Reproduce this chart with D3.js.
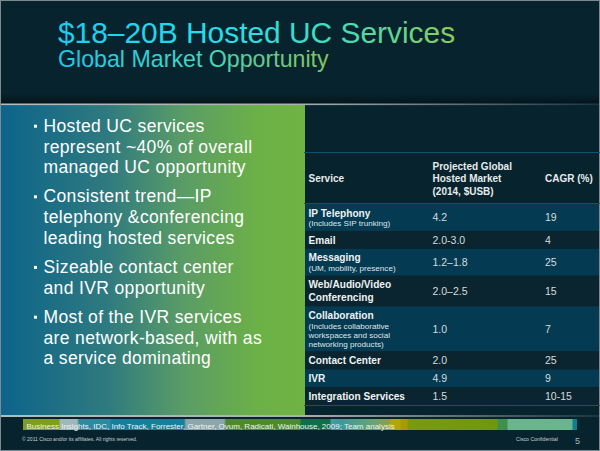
<!DOCTYPE html>
<html>
<head>
<meta charset="utf-8">
<script src="https://cdn.jsdelivr.net/npm/d3@7"></script>
<style>
  html, body { margin: 0; padding: 0; background: #07232e; }
  svg { display: block; }
  text { font-family: "Liberation Sans", Arial, sans-serif; }
</style>
</head>
<body>
<script>
// Slide text
var titleText = "$18–20B Hosted UC Services";
var subtitleText = "Global Market Opportunity";
var bullets = [
  ["Hosted UC services", "represent ~40% of overall", "managed UC opportunity"],
  ["Consistent trend—IP", "telephony &conferencing", "leading hosted services"],
  ["Sizeable contact center", "and IVR opportunity"],
  ["Most of the IVR services", "are network-based, with as", "a service dominating"]
];

// Table columns and rows
var headService = ["Service"];
var headMarket = ["Projected Global", "Hosted Market", "(2014, $USB)"];
var headCagr = ["CAGR (%)"];
var services = [["IP Telephony"], ["Email"], ["Messaging"], ["Web/Audio/Video", "Conferencing"], ["Collaboration"], ["Contact Center"], ["IVR"], ["Integration Services"]];
var serviceNotes = [["(Includes SIP trunking)"], [], ["(UM, mobility, presence)"], [], ["(Includes collaborative", "workspaces and social", "networking products)"], [], [], []];
var marketValues = ["4.2", "2.0-3.0", "1.2–1.8", "2.0–2.5", "1.0", "2.0", "4.9", "1.5"];
var cagrValues = ["19", "4", "25", "15", "7", "25", "9", "10-15"];

// Footer
var sourceText = "Business Insights, IDC, Info Track, Forrester, Gartner, Ovum, Radicati, Wainhouse, 2009; Team analysis";
var copyrightText = "© 2011 Cisco and/or its affiliates. All rights reserved.";
var confidentialText = "Cisco Confidential";
var pageText = "5";

var width = 600, height = 451;

var svg = d3.select("body").append("svg")
  .attr("width", width)
  .attr("height", height);

var defs = svg.append("defs");

function gradient(id, stops, x1, x2) {
  var g = defs.append("linearGradient").attr("id", id);
  if (x1 !== undefined) {
    g.attr("gradientUnits", "userSpaceOnUse").attr("x1", x1).attr("x2", x2).attr("y1", 0).attr("y2", 0);
  }
  stops.forEach(function(s) {
    g.append("stop").attr("offset", s[0]).attr("stop-color", s[1]);
  });
}

gradient("titleFill", [[0, "#1bcdf2"], [0.45, "#25e0ea"], [0.72, "#45dcb4"], [1, "#8ccb5a"]], 58, 456);
gradient("subFill", [[0, "#1bc8ee"], [0.5, "#3ed6c4"], [1, "#86c35a"]], 58, 330);
gradient("panelFill", [[0, "#0c6489"], [0.35, "#2f7a80"], [0.6, "#5a9c66"], [0.85, "#6cb147"], [1, "#6fb343"]]);
gradient("ruleFill", [[0, "#b4bcbc"], [0.5, "#a8b0b0"], [1, "#1c3640"]]);

// Source strip colours, by pixel position along the strip
var stripStart = 23, stripEnd = 577;
var stripStops = [
  [23, "#7f9f1c"], [59, "#7f9f1c"], [60, "#9fb8bc"], [77, "#9fb8bc"], [79, "#2f8a9c"], [110, "#2a8ca0"],
  [111, "#15809c"], [184, "#15809c"], [186, "#8ca6ac"], [224, "#8ca6ac"], [226, "#4f8a2a"], [300, "#4c8a2c"],
  [301, "#0f6f4a"], [330, "#0f6f4a"], [331, "#4a9aa8"], [340, "#3a9a9a"], [375, "#6ea274"], [390, "#90a040"],
  [391, "#b0a808"], [400, "#b0a808"], [401, "#a89a08"], [407, "#a89a08"], [408, "#7a9a10"], [497, "#6f980e"],
  [498, "#3f8f4e"], [507, "#3f8f4e"], [508, "#6ab48e"], [572, "#6ab48e"], [573, "#0e7f92"], [577, "#0e7f92"]
];
gradient("stripFill", stripStops.map(function(s) {
  return [(s[0] - stripStart) / (stripEnd - stripStart), s[1]];
}), stripStart, stripEnd);

// Background and outer frame
svg.append("rect").attr("width", width).attr("height", height).attr("fill", "#07232e");
svg.append("rect").attr("x", 0.5).attr("y", 0.5).attr("width", width - 1).attr("height", height - 1)
  .attr("fill", "none").attr("stroke", "#7d8b90");

// Shadow above the panel
var shade = defs.append("linearGradient").attr("id", "shade").attr("x2", 0).attr("y2", 1);
shade.append("stop").attr("offset", 0).attr("stop-color", "#061a22").attr("stop-opacity", 0);
shade.append("stop").attr("offset", 1).attr("stop-color", "#04141a");
svg.append("rect").attr("x", 1).attr("y", 92).attr("width", 598).attr("height", 12).attr("fill", "url(#shade)");

// Title
svg.append("text").attr("x", 58).attr("y", 43).attr("font-size", 29.9)
  .attr("fill", "url(#titleFill)").text(titleText);
svg.append("text").attr("x", 58).attr("y", 67).attr("font-size", 23.2)
  .attr("fill", "url(#subFill)").text(subtitleText);

// Left panel
svg.append("rect").attr("x", 1).attr("y", 105).attr("width", 304).attr("height", 310).attr("fill", "url(#panelFill)");
svg.append("rect").attr("x", 1).attr("y", 103.5).attr("width", 598).attr("height", 1.6).attr("fill", "url(#ruleFill)");
svg.append("rect").attr("x", 1).attr("y", 415).attr("width", 598).attr("height", 2).attr("fill", "url(#ruleFill)");

var bulletLine = 20.8, bulletGap = 8.2;
var by = 131.7;
bullets.forEach(function(lines) {
  svg.append("rect").attr("x", 34).attr("y", by - 7).attr("width", 3).attr("height", 3).attr("fill", "#fff");
  lines.forEach(function(line, i) {
    svg.append("text").attr("x", 43.5).attr("y", by + i * bulletLine)
      .attr("font-size", 17.5).attr("fill", "#fff").attr("letter-spacing", 0.36).text(line);
  });
  by += lines.length * bulletLine + bulletGap;
});

// Table: row height follows the number of text lines in each row
var rowHeights = services.map(function(s, i) {
  return 5 + 12.6 * s.length + 9 * serviceNotes[i].length;
});
var rowTops = d3.cumsum([0].concat(rowHeights));
var rowScale = d3.scaleLinear()
  .domain([0, rowTops[rowTops.length - 1]])
  .range([204, 405]);

var colX = { service: 308.5, market: 432.5, cagr: 545 };

var rows = svg.selectAll("g.row").data(services).join("g").attr("class", "row");

rows.append("rect")
  .attr("x", 305).attr("width", 294)
  .attr("y", function(d, i) { return rowScale(rowTops[i]); })
  .attr("height", function(d, i) { return rowScale(rowTops[i + 1]) - rowScale(rowTops[i]); })
  .attr("fill", function(d, i) { return i % 2 === 0 ? "#053b52" : "#0a2530"; });

rows.each(function(d, i) {
  var g = d3.select(this);
  var top = rowScale(rowTops[i]), bottom = rowScale(rowTops[i + 1]);
  var mid = (top + bottom) / 2;
  var notes = serviceNotes[i];
  var blockH = d.length * 12.6 + notes.length * 9;
  var y = mid - blockH / 2;
  d.forEach(function(line, k) {
    g.append("text").attr("x", colX.service).attr("y", y + 10 + k * 12.6)
      .attr("font-size", 10.1).attr("font-weight", "bold").attr("fill", "#eef2f2").text(line);
  });
  notes.forEach(function(line, k) {
    g.append("text").attr("x", colX.service).attr("y", y + d.length * 12.6 + 7 + k * 9)
      .attr("font-size", 8.1).attr("fill", "#dfe6e8").text(line);
  });
  g.append("text").attr("x", colX.market).attr("y", mid + 3.8).attr("font-size", 10.5)
    .attr("fill", "#d5dcdc").text(marketValues[i]);
  g.append("text").attr("x", colX.cagr).attr("y", mid + 3.8).attr("font-size", 10.5)
    .attr("fill", "#d5dcdc").text(cagrValues[i]);
});

// Table header
var head = svg.append("g").attr("font-size", 10).attr("font-weight", "bold").attr("fill", "#e6ebeb");
head.append("text").attr("x", colX.service).attr("y", 182).text(headService[0]);
headMarket.forEach(function(line, i) {
  head.append("text").attr("x", colX.market).attr("y", 169.5 + i * 12.5).text(line);
});
head.append("text").attr("x", colX.cagr).attr("y", 182).text(headCagr[0]);

// Table rules
[152.5, 203.5, 405.5].forEach(function(y) {
  svg.append("line").attr("x1", 304).attr("x2", 600).attr("y1", y).attr("y2", y)
    .attr("stroke", "#0e5372").attr("stroke-width", 1);
});

// Source strip
svg.append("rect").attr("x", stripStart).attr("y", 419).attr("width", stripEnd - stripStart).attr("height", 11).attr("fill", "url(#stripFill)");
svg.append("text").attr("x", 26.5).attr("y", 428.5).attr("font-size", 8).attr("fill", "#eef3f3").text(sourceText);

// Footer text
svg.append("text").attr("x", 22).attr("y", 441).attr("font-size", 5).attr("fill", "#c6cfd2").text(copyrightText);
svg.append("text").attr("x", 516).attr("y", 441).attr("font-size", 5.2).attr("fill", "#c6cfd2").text(confidentialText);
svg.append("text").attr("x", 575).attr("y", 444).attr("font-size", 9).attr("fill", "#aab6ba").text(pageText);
</script>
</body>
</html>
